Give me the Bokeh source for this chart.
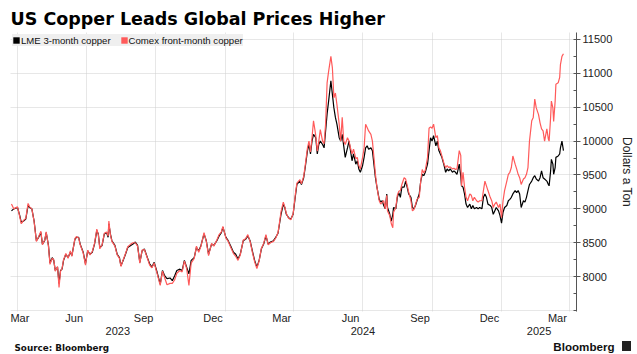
import pandas as pd
from bokeh.plotting import figure
from bokeh.layouts import column
from bokeh.models import (Range1d, FixedTicker, LinearAxis, Legend, LegendItem,
                          ColumnDataSource)
from bokeh.core.properties import value
from bokeh.embed import file_html
from bokeh.resources import INLINE

# ---------------- data ----------------
base_date = "2023-04-01"
day_offsets = [
    -8, -5, 0, 3, 5, 8, 11, 14, 16, 19, 22, 25, 28, 31, 33, 36, 38, 41, 43, 46,
    48, 50, 53, 55, 57, 59, 61, 64, 67, 70, 72, 76, 78, 81, 83, 87, 90, 93, 96, 99,
    102, 105, 107, 109, 112, 115, 118, 120, 121, 123, 125, 129, 132, 135, 137, 140, 143, 146, 150, 153,
    156, 159, 162, 165, 168, 172, 175, 178, 181, 185, 189, 192, 195, 198, 202, 205, 208, 211, 215, 218,
    221, 224, 227, 230, 234, 237, 240, 243, 247, 250, 253, 257, 260, 264, 267, 270, 272, 276, 279, 282,
    286, 289, 292, 295, 299, 302, 305, 308, 311, 314, 317, 320, 323, 326, 329, 332, 335, 339, 342, 345,
    347, 349, 352, 354, 356, 359, 362, 365, 368, 370, 374, 376, 379, 381, 384, 386, 388, 390, 392, 395,
    397, 399, 401, 404, 406, 408, 410, 412, 415, 417, 419, 421, 423, 426, 428, 430, 432, 434, 437, 439,
    441, 443, 445, 448, 450, 452, 454, 457, 459, 461, 463, 465, 468, 470, 472, 474, 476, 479, 481, 483,
    485, 487, 489, 490, 493, 495, 497, 498, 501, 503, 505, 507, 509, 512, 514, 516, 518, 521, 523, 525,
    527, 529, 532, 534, 536, 538, 540, 543, 545, 547, 549, 551, 554, 556, 558, 560, 562, 565, 567, 569,
    571, 573, 576, 578, 580, 582, 585, 587, 588, 590, 592, 594, 596, 599, 601, 603, 605, 608, 610, 612,
    615, 617, 619, 621, 623, 626, 628, 630, 632, 634, 637, 639, 641, 643, 645, 648, 650, 652, 654, 656,
    659, 661, 663, 665, 667, 670, 672, 674, 676, 678, 681, 683, 685, 687, 690, 692, 694, 696, 698, 701,
    703, 704, 706, 707, 709, 710, 712, 713, 716, 718, 719, 721, 723,
]
lme = [
    8970, 9000, 9020, 8900, 8800, 8820, 8850, 9050, 9020, 9000, 8820, 8530, 8580, 8650, 8480, 8530, 8650, 8460, 8200, 8280,
    8240, 8090, 8140, 7900, 8090, 8110, 8240, 8330, 8280, 8360, 8310, 8550, 8580, 8580, 8480, 8360, 8190, 8380, 8330, 8360,
    8480, 8680, 8630, 8430, 8460, 8630, 8650, 8580, 8780, 8630, 8530, 8460, 8330, 8280, 8160, 8240, 8330, 8430, 8460, 8480,
    8510, 8460, 8210, 8380, 8410, 8280, 8190, 8140, 8210, 8060, 7890, 8090, 8010, 7970, 7980, 7940, 8010, 8090, 8110, 8090,
    8240, 8140, 8040, 8240, 8280, 8430, 8380, 8460, 8630, 8530, 8330, 8480, 8460, 8530, 8600, 8650, 8730, 8580, 8530, 8460,
    8360, 8330, 8260, 8330, 8530, 8550, 8600, 8530, 8380, 8240, 8140, 8240, 8410, 8480, 8600, 8480, 8510, 8530, 8580, 8640,
    8780, 8920, 9070, 9020, 8920, 8870, 8850, 8920, 9190, 9360, 9410, 9360, 9460, 9610, 9860, 9950, 9810, 10000, 10100, 10050,
    9810, 9950, 10000, 9950, 9900, 10150, 10400, 10590, 10890, 10690, 10490, 10350, 10250, 10050, 10000, 10100, 9930, 9760, 9900, 10000,
    9860, 9710, 9810, 9660, 9710, 9590, 9540, 9640, 9760, 9900, 9930, 9880, 9900, 9860, 9660, 9460, 9320, 9140, 9100, 9120,
    9050, 9000, 9220, 9020, 8920, 8820, 8920, 9020, 9000, 9170, 9240, 9170, 9320, 9320, 9410, 9320, 9220, 9170, 9020, 9000,
    9050, 9120, 9220, 9410, 9510, 9490, 9540, 9660, 9860, 10050, 10000, 10080, 9930, 10000, 9860, 9810, 9760, 9640, 9540, 9590,
    9560, 9590, 9540, 9560, 9540, 9510, 9660, 9490, 9340, 9320, 9220, 9070, 9020, 9070, 9000, 9050, 9000, 9020, 9000, 9020,
    9000, 9170, 9220, 9170, 9070, 9050, 9020, 8920, 8970, 9020, 8970, 8900, 8790, 8950, 9020, 9050, 9120, 9140, 9170, 9220,
    9270, 9240, 9270, 9220, 9020, 9120, 9100, 9170, 9270, 9360, 9410, 9460, 9490, 9440, 9410, 9460, 9560, 9460, 9440, 9410,
    9360, 9340, 9560, 9730, 9660, 9510, 9610, 9760, 9780, 9810, 9900, 10000, 9860,
]
comex = [
    9070, 9000, 9030, 8880, 8780, 8830, 8860, 9080, 9030, 9000, 8810, 8520, 8590, 8670, 8470, 8540, 8660, 8450, 8180, 8270,
    8250, 8080, 8150, 7840, 8080, 8120, 8250, 8340, 8270, 8380, 8300, 8560, 8590, 8570, 8470, 8350, 8170, 8390, 8320, 8370,
    8490, 8700, 8620, 8410, 8470, 8640, 8660, 8600, 8820, 8620, 8520, 8450, 8320, 8270, 8150, 8250, 8340, 8440, 8480, 8500,
    8500, 8450, 8200, 8390, 8400, 8270, 8170, 8130, 8200, 8040, 7870, 8080, 7980, 7880, 7900, 7900, 7950, 8050, 8090, 8070,
    8230, 8120, 7870, 8200, 8270, 8450, 8360, 8450, 8650, 8520, 8310, 8490, 8450, 8540, 8620, 8660, 8740, 8570, 8520, 8440,
    8340, 8300, 8240, 8320, 8540, 8560, 8620, 8520, 8360, 8220, 8120, 8230, 8420, 8490, 8620, 8470, 8500, 8520, 8570, 8650,
    8800, 8960, 9100, 9030, 8930, 8860, 8840, 8930, 9220, 9380, 9430, 9370, 9480, 9640, 9900, 10000, 9840, 10050, 10300, 10080,
    9850, 10000, 10170, 10000, 9960, 10250, 10860, 11030, 11250, 11080, 10640, 10710, 10540, 10250, 10000, 10350, 10000, 9950, 10050, 10000,
    9900, 9810, 9880, 9740, 9760, 9640, 9590, 9760, 9900, 10250, 10200, 10150, 10100, 10000, 9760, 9510, 9320, 9120, 9070, 9100,
    9120, 9000, 9200, 8970, 8900, 8780, 8720, 8950, 9020, 9200, 9260, 9270, 9360, 9460, 9440, 9350, 9250, 9120, 8970, 8990,
    9060, 9140, 9170, 9410, 9580, 9530, 9570, 9760, 10190, 10210, 10190, 10250, 10050, 10080, 9900, 9860, 9780, 9660, 9610, 9640,
    9610, 9620, 9590, 9600, 9580, 9590, 9860, 9790, 9340, 9540, 9320, 9170, 9120, 9220, 9200, 9120, 9170, 9120, 9100, 9120,
    9120, 9270, 9410, 9340, 9270, 9170, 9120, 9020, 9070, 9100, 9020, 9070, 8870, 9120, 9270, 9410, 9510, 9540, 9610, 9780,
    9660, 9590, 9510, 9460, 9360, 9440, 9460, 9510, 9610, 10000, 10300, 10350, 10620, 10490, 10390, 10270, 10180, 10150, 10000, 10180,
    10030, 10000, 10350, 10590, 10490, 10290, 10590, 10840, 10860, 10940, 11130, 11250, 11290,
]
series_names = ["LME 3-month copper", "Comex front-month copper"]
series_colors = ["#000000", "#ff5a5a"]

title_text = "US Copper Leads Global Prices Higher"
source_text = "Source: Bloomberg"
brand_text = "Bloomberg"

month_label_dates = ["2023-03-16", "2023-06-15", "2023-09-15", "2023-12-16",
                     "2024-03-16", "2024-06-15", "2024-09-15", "2024-12-16", "2025-03-16"]
month_labels = ["Mar", "Jun", "Sep", "Dec", "Mar", "Jun", "Sep", "Dec", "Mar"]
grid_dates = ["2023-04-01", "2023-07-01", "2023-10-01", "2024-01-01", "2024-04-01",
              "2024-07-01", "2024-10-01", "2025-01-01", "2025-04-01"]
year_labels = ["2023", "2024", "2025"]
y_ticks = [8000, 8500, 9000, 9500, 10000, 10500, 11000, 11500]
y_grid = [7500] + y_ticks
y_minor = list(range(7500, 11751, 250))

# ---------------- helpers ----------------
dates = pd.Timestamp(base_date) + pd.to_timedelta(day_offsets, unit="D")
x_start = pd.Timestamp("2023-03-22 17:30")
x_end = pd.Timestamp("2025-04-10 06:30")


def ms(ts):
    return int(pd.Timestamp(ts).value // 10**6)


FONT = "Liberation Sans"
W = 637
HEAD_H = 30
FOOT_H = 15
MAIN_H = 354 - HEAD_H - FOOT_H


def blank(h):
    f = figure(width=W, height=h, x_range=Range1d(0, W), y_range=Range1d(0, h),
               x_axis_type=None, y_axis_type=None, toolbar_location=None,
               output_backend="svg", min_border=0, min_border_left=0, min_border_right=0,
               min_border_top=0, min_border_bottom=0, outline_line_color=None,
               background_fill_color="white", border_fill_color="white",
               frame_align=False)
    f.grid.visible = False
    return f


# ---------------- header ----------------
head = blank(HEAD_H)
head.text(x=[10], y=[HEAD_H - 18], text=[title_text], text_font=value("DejaVu Sans"),
          text_font_style="bold", text_font_size="17.5px", text_baseline="middle",
          text_color="#000000")

# ---------------- main plot ----------------
p = figure(width=W, height=MAIN_H, x_axis_type="datetime", y_axis_location="right",
           toolbar_location=None, output_backend="svg",
           x_range=Range1d(x_start, x_end), y_range=Range1d(7485, 11603),
           min_border_left=10, min_border_right=61, min_border_top=2, min_border_bottom=28,
           outline_line_color=None, background_fill_color="white", border_fill_color="white",
           frame_align=False)

p.xgrid.ticker = FixedTicker(ticks=[ms(d) for d in grid_dates])
p.ygrid.ticker = FixedTicker(ticks=y_grid)
for g in (p.xgrid[0], p.ygrid[0]):
    g.grid_line_color = "#cfcfcf"
    g.grid_line_dash = "1 1"
    g.grid_line_width = 1

label_ticks = []
for d in month_label_dates:
    t = pd.Timestamp(d)
    if t < x_start + pd.Timedelta(days=12.5):
        t = x_start + pd.Timedelta(days=12.5)
    label_ticks.append(ms(t))
xa = p.xaxis[0]
xa.ticker = FixedTicker(ticks=label_ticks)
xa.major_label_overrides = {t: lab for t, lab in zip(label_ticks, month_labels)}

year_pos = [
    ms(x_start + (pd.Timestamp("2024-01-01") - x_start) / 2),
    ms("2024-07-01 12:00"),
    ms(pd.Timestamp("2025-01-01") + (x_end - pd.Timestamp("2025-01-01")) / 2),
]
ya2 = LinearAxis(ticker=FixedTicker(ticks=year_pos),
                 major_label_overrides={t: lab for t, lab in zip(year_pos, year_labels)})
p.add_layout(ya2, "below")

for ax, standoff in ((xa, 0), (ya2, 0)):
    ax.axis_line_color = None
    ax.major_tick_line_color = None
    ax.minor_tick_line_color = None
    ax.major_tick_out = 0
    ax.major_tick_in = 0
    ax.minor_tick_out = 0
    ax.minor_tick_in = 0
    ax.major_label_standoff = standoff
    ax.major_label_text_font = FONT
    ax.major_label_text_font_size = "11px"
    ax.major_label_text_color = "#222222"

ya = p.yaxis[0]
ya.ticker = FixedTicker(ticks=y_ticks, minor_ticks=y_minor)
ya.axis_line_color = "#555555"
ya.major_tick_line_color = "#555555"
ya.minor_tick_line_color = "#555555"
ya.major_tick_out = 4
ya.major_tick_in = 0
ya.minor_tick_in = 3
ya.minor_tick_out = 0
ya.major_label_standoff = 2
ya.major_label_text_font = FONT
ya.major_label_text_font_size = "11px"
ya.major_label_text_color = "#222222"
ya.axis_label = "Dollars a Ton"
ya.axis_label_text_font = FONT
ya.axis_label_text_font_size = "12px"
ya.axis_label_text_font_style = "normal"
ya.axis_label_text_color = "#222222"
ya.axis_label_standoff = 4

p.line(dates, lme, line_color=series_colors[0], line_width=1.2)
p.line(dates, comex, line_color=series_colors[1], line_width=1.2)

# legend swatches: zero-size quads (invisible in the plot, used only for legend glyphs)
items = []
for name, col in zip(series_names, series_colors):
    src = ColumnDataSource(dict(left=[x_start], right=[x_start], top=[7485], bottom=[7485]))
    r = p.quad(left="left", right="right", top="top", bottom="bottom", source=src,
               fill_color=col, line_color=None)
    items.append(LegendItem(label=name, renderers=[r], index=0))
legend = Legend(items=items, orientation="horizontal", location="top_left",
                background_fill_color="#efefef", background_fill_alpha=1.0,
                border_line_color=None, label_text_font=FONT, label_text_font_size="9.6px",
                label_text_color="#111111", glyph_width=8, glyph_height=8, label_standoff=1,
                spacing=9, padding=4, margin=2, label_height=12)
p.add_layout(legend, "center")

# ---------------- footer ----------------
foot = blank(FOOT_H)
foot.text(x=[14], y=[7], text=[source_text], text_font=value("DejaVu Sans"),
          text_font_style="bold", text_font_size="8.8px", text_baseline="middle",
          text_color="#111111")
foot.text(x=[614], y=[8.5], text=[brand_text], text_font=value(FONT),
          text_font_style="bold", text_font_size="11.6px", text_baseline="middle",
          text_align="right", text_color="#111111")
foot.rect(x=[626], y=[8.5], width=9, height=10, fill_color="#222222", line_color=None)

layout = column(head, p, foot, spacing=0)
open("out.html", "w").write(file_html(layout, INLINE))
